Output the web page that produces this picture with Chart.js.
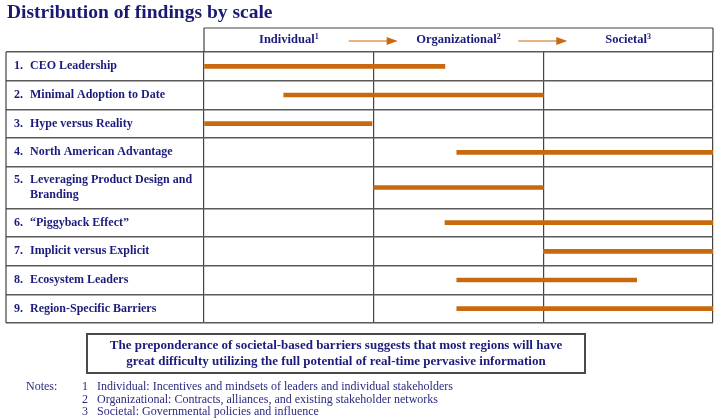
<!DOCTYPE html>
<html>
<head>
<meta charset="utf-8">
<script src="https://cdn.jsdelivr.net/npm/chart.js@4"></script>
<style>
  html, body { margin: 0; padding: 0; background: #fff; }
  #wrap { position: relative; width: 719px; height: 420px; overflow: hidden; }
  #chart { position: absolute; left: 0; top: 0; }
  .txt { position: absolute; font-family: "Liberation Serif", "Times New Roman", serif; color: #1b1b7d; white-space: nowrap; }
  #title { left: 7px; top: 1px; font-size: 19.5px; font-weight: bold; color: #1a1a72; }
  #box { left: 86px; top: 333px; width: 496px; height: 35px; border: 2px solid #4a4a4a; text-align: center;
         font-size: 13px; font-weight: bold; line-height: 16px; padding-top: 2px; }
  .note { font-size: 12px; color: #2b2b80; }
</style>
</head>
<body>
<div id="wrap">
  <canvas id="chart" width="719" height="420"></canvas>
  <div id="title" class="txt"></div>
  <div id="box" class="txt"></div>
  <div id="notes"></div>
</div>
<script>
// Data
var title = "Distribution of findings by scale";
var scaleLevels = ["Individual", "Organizational", "Societal"];
var findings = [
    "CEO Leadership",
    "Minimal Adoption to Date",
    "Hype versus Reality",
    "North American Advantage",
    ["Leveraging Product Design and", "Branding"],
    "\u201cPiggyback Effect\u201d",
    "Implicit versus Explicit",
    "Ecosystem Leaders",
    "Region-Specific Barriers"
];
// extent of each finding on the scale axis (0 = start of Individual, 3 = end of Societal)
var spanStart = [0, 0.47, 0, 1.49, 1.0, 1.42, 2.0, 1.49, 1.49];
var spanEnd   = [1.42, 2.0, 0.99, 3.0, 2.0, 3.0, 3.0, 2.55, 3.0];
var conclusion = ["The preponderance of societal-based barriers suggests that most regions will have",
                  "great difficulty utilizing the full potential of real-time pervasive information"];
var noteTexts = [
    "Individual: Incentives and mindsets of leaders and individual stakeholders",
    "Organizational: Contracts, alliances, and existing stakeholder networks",
    "Societal: Governmental policies and influence"
];

// Layout: row heights (finding 5 wraps onto two lines)
var rowSpan = [1, 1, 1, 1, 1.45, 1, 1, 1, 1];
var rowEdges = [0];
var rowMid = [];
rowSpan.forEach(function (s, i) {
    rowMid.push(rowEdges[i] + s / 2);
    rowEdges.push(rowEdges[i] + s);
});
var rowTotal = rowEdges[rowEdges.length - 1];

var navy = "#1b1b7d";
var barColor = "#c8690f";

document.getElementById("title").textContent = title;
document.getElementById("box").innerHTML = conclusion.join("<br>");
var notesDiv = document.getElementById("notes");
var n0 = document.createElement("div");
n0.className = "txt note";
n0.style.left = "26px"; n0.style.top = "379px";
n0.textContent = "Notes:";
notesDiv.appendChild(n0);
noteTexts.forEach(function (t, i) {
    var num = document.createElement("div");
    num.className = "txt note";
    num.style.left = "82px"; num.style.top = (379 + i * 12.5) + "px";
    num.textContent = String(i + 1);
    notesDiv.appendChild(num);
    var d = document.createElement("div");
    d.className = "txt note";
    d.style.left = "97px"; d.style.top = (379 + i * 12.5) + "px";
    d.textContent = t;
    notesDiv.appendChild(d);
});

// Table frame, header and row labels
var tablePlugin = {
    id: "tableFrame",
    afterDraw: function (chart) {
        var c = chart.ctx;
        var xs = chart.scales.x, ys = chart.scales.y;
        var area = chart.chartArea;
        var headTop = area.top - 24;
        c.save();

        // frame lines
        c.strokeStyle = "#444";
        c.lineWidth = 1.2;
        c.beginPath();
        c.moveTo(area.left, headTop); c.lineTo(area.right, headTop);
        c.moveTo(area.left, headTop); c.lineTo(area.left, area.top);
        c.moveTo(area.right, headTop); c.lineTo(area.right, area.top);
        c.moveTo(6, area.top); c.lineTo(6, area.bottom);
        c.stroke();

        // header labels
        var midY = headTop + 12;
        scaleLevels.forEach(function (lvl, i) {
            var cx = xs.getPixelForValue(i + 0.5);
            c.font = "bold 12.5px 'Liberation Serif', serif";
            var w = c.measureText(lvl).width;
            c.font = "bold 8px 'Liberation Serif', serif";
            var sw = c.measureText(String(i + 1)).width;
            var x0 = cx - (w + sw) / 2;
            c.fillStyle = navy;
            c.textBaseline = "middle";
            c.textAlign = "left";
            c.font = "bold 12.5px 'Liberation Serif', serif";
            c.fillText(lvl, x0, midY);
            c.font = "bold 8px 'Liberation Serif', serif";
            c.fillText(String(i + 1), x0 + w, midY - 3);
        });

        // arrows between levels
        c.strokeStyle = barColor;
        c.fillStyle = barColor;
        c.lineWidth = 1;
        [1, 2].forEach(function (v) {
            var bx = xs.getPixelForValue(v);
            var ay = midY + 1;
            c.beginPath();
            c.moveTo(bx - 25, ay); c.lineTo(bx + 14, ay);
            c.stroke();
            c.beginPath();
            c.moveTo(bx + 24, ay); c.lineTo(bx + 13, ay - 4); c.lineTo(bx + 13, ay + 4);
            c.closePath();
            c.fill();
        });

        // row labels
        c.fillStyle = navy;
        c.textAlign = "left";
        c.textBaseline = "middle";
        c.font = "bold 12px 'Liberation Serif', serif";
        findings.forEach(function (f, i) {
            var y = ys.getPixelForValue(rowMid[i]);
            var lines = Array.isArray(f) ? f : [f];
            var y0 = y - (lines.length - 1) * 7.5;
            c.fillText((i + 1) + ".", 14, y0);
            lines.forEach(function (ln, k) {
                c.fillText(ln, 30, y0 + k * 15);
            });
        });
        c.restore();
    }
};

var ctx = document.getElementById("chart").getContext("2d");
var chart = new Chart(ctx, {
    type: "bar",
    data: {
        datasets: [{
            data: findings.map(function (f, i) {
                return { x: [spanStart[i], spanEnd[i]], y: rowMid[i] };
            }),
            backgroundColor: barColor,
            borderWidth: 0,
            borderSkipped: false,
            barThickness: 4
        }]
    },
    options: {
        indexAxis: "y",
        responsive: false,
        animation: false,
        layout: { padding: { left: 6, right: 6, top: 52, bottom: 97 } },
        plugins: {
            legend: { display: false },
            tooltip: { enabled: false }
        },
        scales: {
            x: {
                type: "linear",
                position: "top",
                min: 0,
                max: 3,
                offset: false,
                afterBuildTicks: function (s) { s.ticks = [0, 1, 2, 3].map(function (v) { return { value: v }; }); },
                afterFit: function (s) { s.height = 0; },
                ticks: { display: false },
                grid: { color: "#444", lineWidth: 1.2, drawTicks: false, offset: false },
                border: { display: false }
            },
            y: {
                type: "linear",
                reverse: true,
                min: 0,
                max: rowTotal,
                offset: false,
                afterBuildTicks: function (s) { s.ticks = rowEdges.map(function (v) { return { value: v }; }); },
                afterFit: function (s) { s.width = 198; },
                ticks: { display: false },
                grid: { color: "#5a5a5a", lineWidth: 1.5, drawTicks: true, tickLength: 198, offset: false },
                border: { display: false }
            }
        }
    },
    plugins: [tablePlugin]
});
</script>
</body>
</html>
